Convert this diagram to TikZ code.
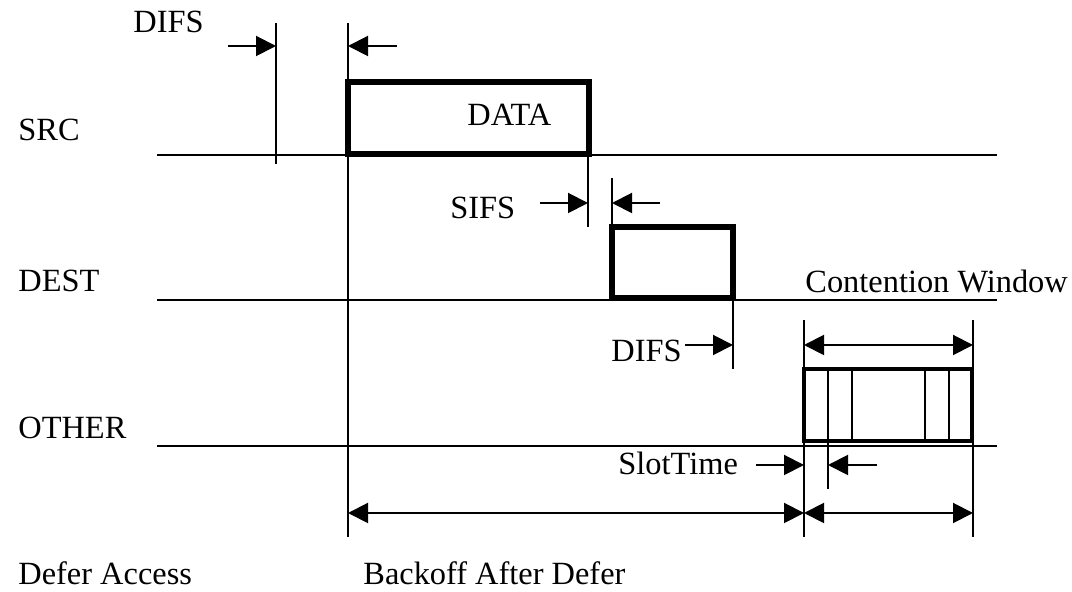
\documentclass[tikz,border=0pt]{standalone}
\usepackage{fontspec}
\setmainfont{Liberation Serif}
\usetikzlibrary{arrows.meta}
\begin{document}
\begin{tikzpicture}[x=0.5pt,y=-0.5pt,
  lbl/.style={anchor=base west,inner sep=0pt,font=\fontsize{16.2}{19}\selectfont},
  thin/.style={line width=1pt},
  frame/.style={line width=3pt,line join=miter},
  cwframe/.style={line width=1.7pt},
  tick/.style={line width=1pt},
  dim/.style={line width=1pt,-{Triangle[length=10pt,width=10pt]}},
  ddim/.style={line width=1pt,{Triangle[length=10pt,width=10pt]}-{Triangle[length=10pt,width=10pt]}}]
\useasboundingbox (0,0) rectangle (1072,592);

% time lines
\draw[thin] (157,155) -- (997,155);
\draw[thin] (157,300) -- (997,300);
\draw[thin] (157,446) -- (997,446);

% row labels
\node[lbl] (src)   at (18,141) {SRC};
\node[lbl] (dest)  at (18,292) {DEST};
\node[lbl] (other) at (18,439) {OTHER};
\node[lbl] (defer) at (18,585) {Defer Access};
\node[lbl] (boff)  at (363,585) {Backoff After Defer};

% frames
\draw[frame] (348,82) rectangle (589,154);
\node[lbl] (data) at (467,126) {DATA};
\draw[frame] (612,227) rectangle (733,298);
\draw[cwframe] (804,369) rectangle (972,441);
\foreach \x in {828,852,925,949} \draw[tick] (\x,369) -- (\x,441);

% reference marks
\coordinate (d1t) at (276,23);  \coordinate (d1b) at (276,164);
\coordinate (t0t) at (348,23);  \coordinate (t0b) at (348,537);
\coordinate (s1t) at (588,155); \coordinate (s1b) at (588,227);
\coordinate (s2t) at (612,178); \coordinate (s2b) at (612,227);
\coordinate (d2t) at (733,300); \coordinate (d2b) at (733,369);
\coordinate (c1t) at (804,320); \coordinate (c1b) at (804,537);
\coordinate (c2t) at (973,320); \coordinate (c2b) at (973,537);
\coordinate (stt) at (828,369); \coordinate (stb) at (828,489);
\foreach \a/\b in {d1t/d1b,t0t/t0b,s1t/s1b,s2t/s2b,d2t/d2b,c1t/c1b,c2t/c2b,stt/stb}
  \draw[tick] (\a) -- (\b);

% DIFS before DATA
\node[lbl] (difsA) at (133,33) {DIFS};
\coordinate (a1) at (228,46); \coordinate (a2) at (397,46);
\draw[dim] (a1) -- (d1t |- a1);
\draw[dim] (a2) -- (t0t |- a2);

% SIFS
\node[lbl] (sifs) at (450,219) {SIFS};
\coordinate (b1) at (540,203); \coordinate (b2) at (660,203);
\draw[dim] (b1) -- (s1t |- b1);
\draw[dim] (b2) -- (s2t |- b2);

% DIFS after ACK
\node[lbl] (difsB) at (611,362) {DIFS};
\coordinate (e1) at (685,345);
\draw[dim] (e1) -- (d2t |- e1);

% contention window
\node[lbl] (cw) at (805,293) {Contention Window};
\draw[ddim] (c1t |- e1) -- (c2t |- e1);

% slot time
\node[lbl] (slot) at (618,475) {SlotTime};
\coordinate (f1) at (756,465); \coordinate (f2) at (877,465);
\draw[dim] (f1) -- (c1t |- f1);
\draw[dim] (f2) -- (stt |- f2);

% defer / backoff spans
\coordinate (g) at (0,513);
\draw[ddim] (t0t |- g) -- (c1t |- g);
\draw[ddim] (c1t |- g) -- (c2t |- g);
\end{tikzpicture}
\end{document}
